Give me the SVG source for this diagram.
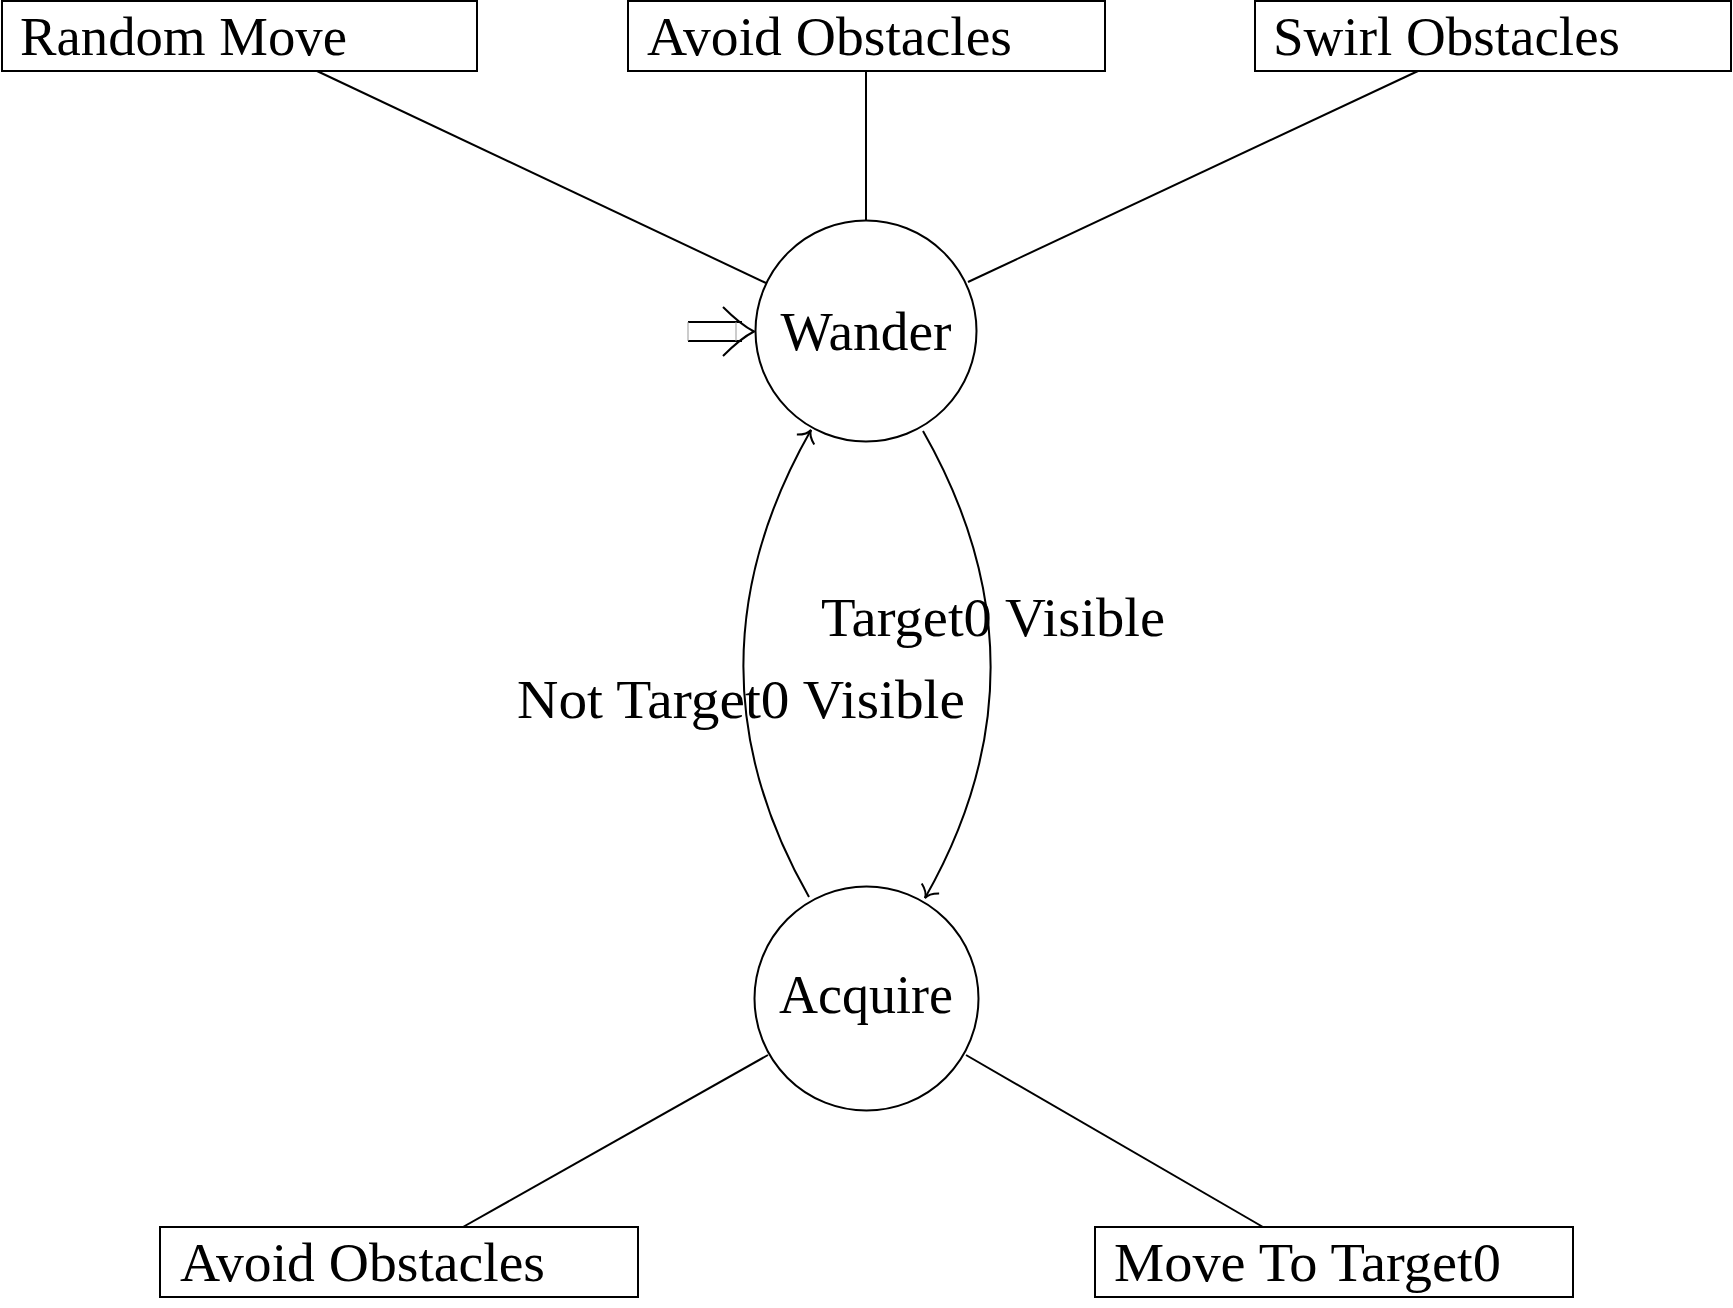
<svg xmlns="http://www.w3.org/2000/svg" width="1733" height="1308" viewBox="0 0 1733 1308">
<style>
  .box { fill: #fff; stroke: #000; stroke-width: 2; }
  .state { fill: #fff; stroke: #000; stroke-width: 2; }
  .lbl { font-family: "Liberation Serif", "DejaVu Serif", serif; font-size: 55px; fill: #000; }
  .mid { text-anchor: middle; }
  .edge { fill: none; stroke: #000; stroke-width: 2; }
</style>
<defs>
  <marker id="to" markerUnits="userSpaceOnUse" markerWidth="30" markerHeight="30" refX="0" refY="0" orient="auto" overflow="visible" viewBox="-15 -15 30 30">
    <path d="M -11,-10 Q -6,-1 0,0 Q -6,1 -11,10" fill="none" stroke="#000" stroke-width="2"/>
  </marker>
</defs>
<rect width="1733" height="1308" fill="#fff"/>
<g id="connectors">
  <line class="edge" x1="317" y1="71" x2="766" y2="283"/>
  <line class="edge" x1="866" y1="71" x2="866" y2="220"/>
  <line class="edge" x1="1418" y1="71" x2="968" y2="282"/>
  <line class="edge" x1="768" y1="1055" x2="463" y2="1227"/>
  <line class="edge" x1="966" y1="1055" x2="1263" y2="1227"/>
  <path class="edge" d="M 923,431 C 1012,587 1014,742 925,898" marker-end="url(#to)"/>
  <path class="edge" d="M 809,897 C 720,741 722,586 811,430" marker-end="url(#to)"/>
  <g id="initial">
    <line x1="688" y1="322" x2="742" y2="322" stroke="#000" stroke-width="2"/>
    <line x1="688" y1="341" x2="742" y2="341" stroke="#000" stroke-width="2"/>
    <line x1="688" y1="322" x2="688" y2="341" stroke="#999" stroke-width="1"/>
    <line x1="736" y1="322" x2="736" y2="341" stroke="#999" stroke-width="1"/>
    <path d="M 723,307 Q 741,325 754,331.5 Q 741,338 723,356" fill="none" stroke="#000" stroke-width="2"/>
  </g>
</g>
<g id="random-move">
  <rect class="box" x="2" y="1" width="475" height="70"/>
  <text class="lbl" x="20" y="55" textLength="327" lengthAdjust="spacingAndGlyphs">Random Move</text>
</g>
<g id="avoid-obstacles-top">
  <rect class="box" x="628" y="1" width="477" height="70"/>
  <text class="lbl" x="647" y="55" textLength="365" lengthAdjust="spacingAndGlyphs">Avoid Obstacles</text>
</g>
<g id="swirl-obstacles">
  <rect class="box" x="1255" y="1" width="476" height="70"/>
  <text class="lbl" x="1273" y="55" textLength="347" lengthAdjust="spacingAndGlyphs">Swirl Obstacles</text>
</g>
<g id="wander">
  <circle class="state" cx="866" cy="331" r="110.5"/>
  <text class="lbl mid" x="866" y="350" textLength="171" lengthAdjust="spacingAndGlyphs">Wander</text>
</g>
<g id="acquire">
  <circle class="state" cx="866.5" cy="998.5" r="112"/>
  <text class="lbl mid" x="866" y="1013" textLength="174" lengthAdjust="spacingAndGlyphs">Acquire</text>
</g>
<g id="avoid-obstacles-bottom">
  <rect class="box" x="160" y="1227" width="478" height="70"/>
  <text class="lbl" x="180" y="1281" textLength="365" lengthAdjust="spacingAndGlyphs">Avoid Obstacles</text>
</g>
<g id="move-to-target0">
  <rect class="box" x="1095" y="1227" width="478" height="70"/>
  <text class="lbl" x="1114" y="1281" textLength="387" lengthAdjust="spacingAndGlyphs">Move To Target0</text>
</g>
<g id="edge-labels">
  <text class="lbl" x="821" y="636" textLength="344" lengthAdjust="spacingAndGlyphs">Target0 Visible</text>
  <text class="lbl" x="517" y="718" textLength="448" lengthAdjust="spacingAndGlyphs">Not Target0 Visible</text>
</g>
</svg>
